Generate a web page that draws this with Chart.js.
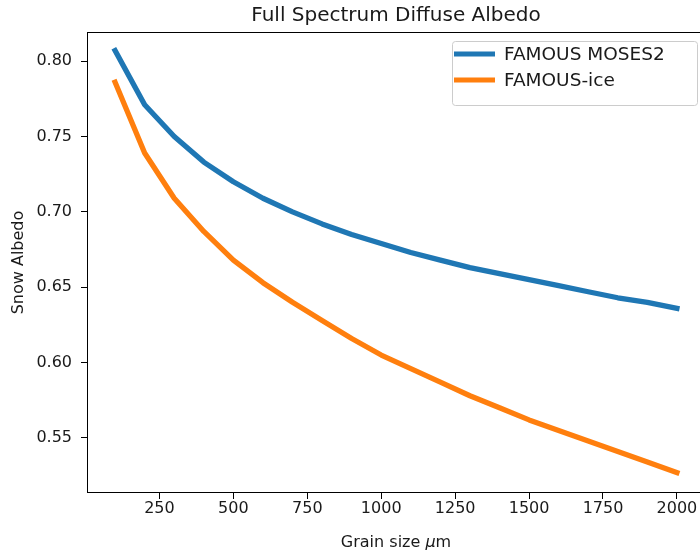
<!DOCTYPE html>
<html>
<head>
<meta charset="utf-8">
<title>Full Spectrum Diffuse Albedo</title>
<script src="https://cdn.jsdelivr.net/npm/chart.js@4.4.0/dist/chart.umd.min.js"></script>
<style>
  html, body { margin: 0; padding: 0; background: #fff; overflow: hidden; }
  #wrap { width: 705px; height: 554px; }
</style>
</head>
<body>
<div id="wrap"><canvas id="albedoChart" width="705" height="554"></canvas></div>
<script>
// grain size in micrometres
const grainSizes = [100, 200, 300, 400, 500, 600, 700, 800, 900, 1000,
                    1100, 1200, 1300, 1400, 1500, 1600, 1700, 1800, 1900, 2000];

const moses2Albedo = [0.807, 0.771, 0.750, 0.733, 0.720, 0.709, 0.700, 0.692, 0.685, 0.679,
                      0.673, 0.668, 0.663, 0.659, 0.655, 0.651, 0.647, 0.643, 0.640, 0.636];

const iceAlbedo = [0.786, 0.739, 0.709, 0.687, 0.668, 0.653, 0.640, 0.628, 0.616, 0.605,
                   0.596, 0.587, 0.578, 0.570, 0.562, 0.555, 0.548, 0.541, 0.534, 0.527];

const xTicks = [250, 500, 750, 1000, 1250, 1500, 1750, 2000];
const yTicks = [0.55, 0.60, 0.65, 0.70, 0.75, 0.80];

const FONT = "'DejaVu Sans', sans-serif";
const TEXT = '#1a1a1a';
const TITLE = 'Full Spectrum Diffuse Albedo';

// frame around the plot area (matplotlib style spines)
const framePlugin = {
    id: 'frame',
    afterDraw(chart) {
        const a = chart.chartArea;
        const ctx = chart.ctx;
        ctx.save();
        ctx.strokeStyle = '#000';
        ctx.lineWidth = 1;
        ctx.strokeRect(a.left + 0.5, a.top + 0.5, a.right - a.left - 1, a.bottom - a.top - 1);
        ctx.restore();
    }
};

// title centred over the axes, not over the whole canvas
const axesTitlePlugin = {
    id: 'axesTitle',
    afterDraw(chart) {
        const a = chart.chartArea;
        const ctx = chart.ctx;
        ctx.save();
        ctx.fillStyle = TEXT;
        ctx.font = '20px ' + FONT;
        ctx.textAlign = 'center';
        ctx.textBaseline = 'alphabetic';
        ctx.fillText(TITLE, (a.left + a.right) / 2, 21);
        ctx.restore();
    }
};

// legend box in the upper right corner
const legendBoxPlugin = {
    id: 'legendBox',
    afterDraw(chart) {
        const a = chart.chartArea;
        const ctx = chart.ctx;
        const sets = chart.data.datasets;
        const w = 245, rowH = 26;
        const h = 12 + rowH * sets.length;
        const x = a.right - 8 - w, y = a.top + 9;
        ctx.save();
        ctx.fillStyle = 'rgba(255,255,255,0.8)';
        ctx.strokeStyle = '#cccccc';
        ctx.lineWidth = 1;
        ctx.beginPath();
        ctx.roundRect(x + 0.5, y + 0.5, w, h, 3);
        ctx.fill();
        ctx.stroke();
        ctx.font = '18.5px ' + FONT;
        ctx.textBaseline = 'middle';
        ctx.fillStyle = TEXT;
        sets.forEach((ds, i) => {
            const cy = y + 13 + i * rowH;
            ctx.strokeStyle = ds.borderColor;
            ctx.lineWidth = 5;
            ctx.lineCap = 'butt';
            ctx.beginPath();
            ctx.moveTo(x + 2, cy);
            ctx.lineTo(x + 43, cy);
            ctx.stroke();
            ctx.fillText(ds.label, x + 52, cy + 1);
        });
        ctx.restore();
    }
};

// x axis label with an italic mu
const xLabelPlugin = {
    id: 'xLabel',
    afterDraw(chart) {
        const a = chart.chartArea;
        const ctx = chart.ctx;
        const parts = [['Grain size ', 'normal'], ['\u03bc', 'italic'], ['m', 'normal']];
        ctx.save();
        ctx.fillStyle = TEXT;
        ctx.textBaseline = 'alphabetic';
        let total = 0;
        parts.forEach(p => { ctx.font = p[1] + ' 16px ' + FONT; total += ctx.measureText(p[0]).width; });
        let cx = (a.left + a.right) / 2 - total / 2;
        parts.forEach(p => {
            ctx.font = p[1] + ' 16px ' + FONT;
            ctx.fillText(p[0], cx, 547);
            cx += ctx.measureText(p[0]).width;
        });
        ctx.restore();
    }
};

const ctx = document.getElementById('albedoChart').getContext('2d');

new Chart(ctx, {
    type: 'line',
    data: {
        datasets: [
            {
                label: 'FAMOUS MOSES2',
                data: grainSizes.map((g, i) => ({ x: g, y: moses2Albedo[i] })),
                borderColor: '#1f77b4',
                borderWidth: 5.3,
                borderCapStyle: 'square',
                borderJoinStyle: 'round',
                pointRadius: 0,
                fill: false,
                tension: 0
            },
            {
                label: 'FAMOUS-ice',
                data: grainSizes.map((g, i) => ({ x: g, y: iceAlbedo[i] })),
                borderColor: '#ff7f0e',
                borderWidth: 5.3,
                borderCapStyle: 'square',
                borderJoinStyle: 'round',
                pointRadius: 0,
                fill: false,
                tension: 0
            }
        ]
    },
    options: {
        responsive: false,
        animation: false,
        layout: { padding: { top: 32, left: 0, right: 0, bottom: 0 } },
        plugins: {
            legend: { display: false },
            tooltip: { enabled: false },
            title: { display: false }
        },
        scales: {
            x: {
                type: 'linear',
                min: 5,
                max: 2095,
                afterBuildTicks: scale => { scale.ticks = xTicks.map(v => ({ value: v })); },
                afterFit: scale => { scale.height = 61; },
                border: { display: false },
                grid: { drawOnChartArea: false, drawTicks: true, tickLength: 6, tickColor: '#000', tickWidth: 1 },
                ticks: {
                    padding: 0,
                    color: TEXT,
                    autoSkip: false,
                    maxRotation: 0,
                    font: { family: FONT, size: 16 },
                    callback: v => String(v)
                }
            },
            y: {
                type: 'linear',
                min: 0.5135,
                max: 0.8193,
                afterBuildTicks: scale => { scale.ticks = yTicks.map(v => ({ value: v })); },
                afterFit: scale => { scale.width = 87; },
                border: { display: false },
                grid: { drawOnChartArea: false, drawTicks: true, tickLength: 6, tickColor: '#000', tickWidth: 1 },
                ticks: {
                    padding: 9,
                    color: TEXT,
                    font: { family: FONT, size: 16 },
                    callback: v => v.toFixed(2)
                },
                title: {
                    display: true,
                    text: 'Snow Albedo',
                    color: TEXT,
                    font: { family: FONT, size: 16 },
                    padding: { top: 9, bottom: 0 }
                }
            }
        }
    },
    plugins: [framePlugin, axesTitlePlugin, legendBoxPlugin, xLabelPlugin]
});
</script>
</body>
</html>
